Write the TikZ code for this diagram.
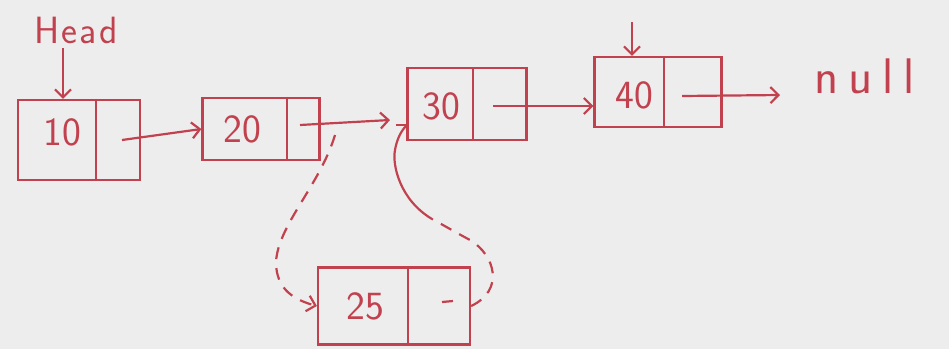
\documentclass[tikz,border=0pt]{standalone}
\usepackage{fontspec}
\setsansfont{Latin Modern Sans}
\newfontfamily\widesans[LetterSpace=20]{Latin Modern Sans}
\newfontfamily\headsans[LetterSpace=6]{Latin Modern Sans}
\usetikzlibrary{arrows.meta}
\definecolor{ink}{HTML}{C2414E}
\definecolor{paper}{HTML}{EDEDED}
\begin{document}
\begin{tikzpicture}[x=1pt,y=-1pt,
  every path/.style={line width=2.2pt},
  cell/.style={draw=ink, rectangle, inner sep=0pt},
  val/.style={text=ink, font=\sffamily\fontsize{40}{42}\selectfont},
  arr/.style={draw=ink, -{Straight Barb[length=8pt,width=16pt,line width=2.2pt]}},
  ln/.style={draw=ink},
  dsh/.style={draw=ink, dash pattern=on 12pt off 9pt}]
\fill[paper] (0,0) rectangle (949,349);
\useasboundingbox (0,0) rectangle (949,349);

% boxes
\node[cell, minimum width=122pt, minimum height=80pt] (b10) at (79,140) {};
\node[cell, minimum width=117pt, minimum height=62pt] (b20) at (261,129) {};
\node[cell, minimum width=119pt, minimum height=72pt] (b30) at (467,104) {};
\node[cell, minimum width=127pt, minimum height=70pt] (b40) at (658,92) {};
\node[cell, minimum width=152pt, minimum height=77pt] (b25) at (394,306) {};

% dividers
\coordinate (d10) at (96,0);
\coordinate (d20) at (287,0);
\coordinate (d30) at (473,0);
\coordinate (d40) at (664,0);
\coordinate (d25) at (408,0);
\draw[ln] (b10.north -| d10) -- (b10.south -| d10);
\draw[ln] (b20.north -| d20) -- (b20.south -| d20);
\draw[ln] (b30.north -| d30) -- (b30.south -| d30);
\draw[ln] (b40.north -| d40) -- (b40.south -| d40);
\draw[ln] (b25.north -| d25) -- (b25.south -| d25);

% values
\node[val] (v10) at (62,132) {10};
\node[val] (v20) at (242,129) {20};
\node[val] (v30) at (441,106) {30};
\node[val] (v40) at (634,95) {40};
\node[val] (v25) at (365,306) {25};
\node[text=ink, anchor=west, font=\widesans\fontsize{50}{52}\selectfont] (nul) at (810,76) {null};
\node[text=ink, font=\headsans\fontsize{38}{40}\selectfont] (head) at (76,30) {Head};

% pointer origins
\coordinate (p10) at (122,140);
\coordinate (p20) at (300,125);
\coordinate (p30) at (493,106);
\coordinate (p40) at (682,96);
\coordinate (t30) at (390,120);
\coordinate (e40) at (780,95);
\coordinate (h10) at (63,0);
\coordinate (top40) at (632,22);
\coordinate (s20) at (335,135);
\coordinate (m25) at (432,219);
\coordinate (t30b) at (408,124);

% next arrows
\draw[arr] (p10) -- (b20.west);
\draw[arr] (p20) -- (t30);
\draw[arr] (p30) -- (p30 -| b40.west);
\draw[arr] (p40) -- (e40);

% head pointers
\draw[arr] (head.south -| h10) -- (b10.north -| h10);
\draw[arr] (top40) -- (b40.north -| top40);

% small mark in 25's pointer cell
\draw[ln] (442,302) -- (453,301);

% insertion links
\draw[dsh, arr] (s20) .. controls (320,185) and (278,225) .. (276,262)
  .. controls (276,290) and (295,300) .. (b25.west);
\draw[dsh] (b25.east) .. controls (505,290) and (495,255) .. (470,240)
  .. controls (455,232) and (445,226) .. (m25);
\draw[arr] (m25) .. controls (400,200) and (392,165) .. (395,150)
  .. controls (397,138) and (402,130) .. (t30b);
\end{tikzpicture}
\end{document}
